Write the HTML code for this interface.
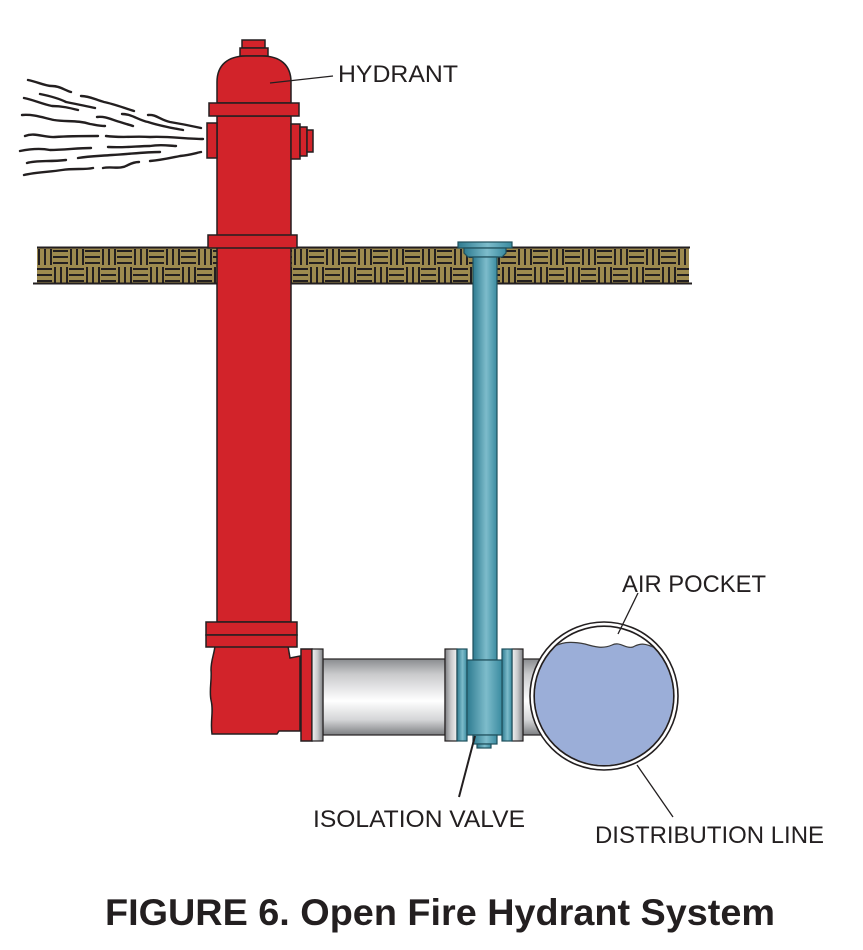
<!DOCTYPE html>
<html><head><meta charset="utf-8"><style>
html,body{margin:0;padding:0;background:#fff;}
svg{display:block;}
</style></head><body>
<svg width="863" height="950" viewBox="0 0 863 950" xmlns="http://www.w3.org/2000/svg">
<defs>
 <pattern id="weave" patternUnits="userSpaceOnUse" x="37" y="248" width="32" height="36">
  <rect width="32" height="36" fill="#9d8a4f"/>
  <g stroke="#231f20" stroke-width="2">
   <line x1="2" y1="1" x2="2" y2="17"/>
   <line x1="8" y1="1" x2="8" y2="17"/>
   <line x1="14" y1="1" x2="14" y2="17"/>
   <line x1="16" y1="3" x2="31" y2="3"/>
   <line x1="16" y1="9" x2="31" y2="9"/>
   <line x1="16" y1="15" x2="31" y2="15"/>
   <line x1="18" y1="19" x2="18" y2="35"/>
   <line x1="24" y1="19" x2="24" y2="35"/>
   <line x1="30" y1="19" x2="30" y2="35"/>
   <line x1="0" y1="21" x2="15" y2="21"/>
   <line x1="0" y1="27" x2="15" y2="27"/>
   <line x1="0" y1="33" x2="15" y2="33"/>
  </g>
 </pattern>
 <linearGradient id="pipeG" x1="0" y1="0" x2="0" y2="1">
  <stop offset="0" stop-color="#8a8c8f"/>
  <stop offset="0.2" stop-color="#c9cacc"/>
  <stop offset="0.55" stop-color="#ffffff"/>
  <stop offset="0.8" stop-color="#d4d5d7"/>
  <stop offset="1" stop-color="#7d7f82"/>
 </linearGradient>
 <linearGradient id="flG" x1="0" y1="0" x2="1" y2="0">
  <stop offset="0" stop-color="#7e8083"/>
  <stop offset="0.5" stop-color="#c8c9cb"/>
  <stop offset="1" stop-color="#f2f2f2"/>
 </linearGradient>
 <linearGradient id="flG2" x1="0" y1="0" x2="1" y2="0">
  <stop offset="0" stop-color="#f2f2f2"/>
  <stop offset="0.5" stop-color="#c8c9cb"/>
  <stop offset="1" stop-color="#7e8083"/>
 </linearGradient>
 <linearGradient id="blueG" x1="0" y1="0" x2="1" y2="0">
  <stop offset="0" stop-color="#2e7b90"/>
  <stop offset="0.55" stop-color="#7dbccb"/>
  <stop offset="1" stop-color="#3a8ba0"/>
 </linearGradient>
 <clipPath id="innerC"><circle cx="604" cy="696" r="69"/></clipPath>
</defs>

<!-- water spray -->
<g fill="none" stroke="#231f20" stroke-width="2.4" stroke-linecap="round">
 <path d="M28,80 C38,82 45,86 52,86 C60,86 64,90 71,92"/>
 <path d="M40,94 C50,96 58,98 66,102 C76,104 86,106 95,108"/>
 <path d="M24,98 C34,100 42,104 52,106 C62,106 70,108 78,110"/>
 <path d="M81,96 C90,96 96,100 104,102 C114,104 124,108 134,111"/>
 <path d="M22,115 C34,114 44,118 54,120 C66,122 78,120 90,124 C96,125 100,126 105,126"/>
 <path d="M97,117 C106,116 112,120 120,122 C126,124 130,125 133,126"/>
 <path d="M122,114 C132,114 138,120 148,122 C160,126 172,128 183,130"/>
 <path d="M148,115 C156,114 160,120 170,122 C182,124 192,126 201,128"/>
 <path d="M25,136 C35,132 45,138 55,137 C70,136 84,136 98,136"/>
 <path d="M106,136 C120,138 135,136 150,137 C168,136 186,139 203,139"/>
 <path d="M20,151 C30,149 40,148 50,150 C64,150 78,148 91,148"/>
 <path d="M108,147 C124,148 138,146 150,146 C162,144 170,146 176,146"/>
 <path d="M78,158 C90,156 100,156 112,155 C130,154 145,152 160,152"/>
 <path d="M27,163 C37,160 48,162 66,160"/>
 <path d="M150,161 C162,160 170,158 180,156 C190,155 196,153 201,152"/>
 <path d="M24,175 C36,172 50,172 62,170 C74,168 84,170 93,168"/>
 <path d="M103,168 C112,166 120,170 128,165 C132,163 136,162 139,162"/>
</g>

<!-- ground band -->
<rect x="37" y="248" width="652" height="35" fill="url(#weave)"/>
<line x1="37" y1="247.5" x2="690" y2="247.5" stroke="#231f20" stroke-width="2"/>
<line x1="33" y1="283.5" x2="692" y2="283.5" stroke="#231f20" stroke-width="2"/>

<!-- hydrant -->
<g stroke="#231f20" stroke-width="1.5" fill="#d2232a">
 <rect x="242" y="40" width="23" height="8"/>
 <rect x="240" y="48" width="28" height="8"/>
 <path d="M217,103 L217,82 C217,65 228,56 246,56 L262,56 C280,56 291,65 291,82 L291,103 Z"/>
 <rect x="217" y="116" width="74" height="506"/>
 <rect x="209" y="103" width="90" height="13"/>
 <rect x="207" y="123" width="10" height="35"/>
 <rect x="291" y="124" width="9" height="35"/>
 <rect x="300" y="127" width="7" height="29"/>
 <rect x="307" y="130" width="6" height="22"/>
 <rect x="208" y="235" width="89" height="13"/>
 <path d="M215,646 L288,646 L290,658 L300,656 L300,731 L279,731 L277,734 L212,734 C210,720 214,712 211,700 C209,690 212,680 211,670 C211,660 214,655 215,646 Z"/>
 <rect x="206" y="622" width="91" height="13"/>
 <rect x="206" y="635" width="91" height="12"/>
 <rect x="301" y="649" width="11" height="92"/>
</g>

<!-- gray pipe -->
<rect x="323" y="659" width="122" height="76" fill="url(#pipeG)" stroke="#231f20" stroke-width="1.2"/>
<rect x="523" y="659" width="40" height="76" fill="url(#pipeG)" stroke="#231f20" stroke-width="1.2"/>
<rect x="312" y="649" width="11" height="92" fill="url(#flG2)" stroke="#231f20" stroke-width="1.2"/>
<rect x="445" y="649" width="12" height="92" fill="url(#flG)" stroke="#231f20" stroke-width="1.2"/>
<rect x="512" y="649" width="11" height="92" fill="url(#flG2)" stroke="#231f20" stroke-width="1.2"/>

<!-- blue valve -->
<g stroke="#1f4f5c" stroke-width="1.2">
 <rect x="458" y="242" width="54" height="6" fill="url(#blueG)"/>
 <path d="M464,248 L506,248 L506,253 L502,257 L468,257 L464,253 Z" fill="url(#blueG)"/>
 <rect x="473" y="257" width="24" height="403" fill="url(#blueG)"/>
 <rect x="457" y="649" width="10" height="92" fill="url(#blueG)"/>
 <rect x="502" y="649" width="10" height="92" fill="url(#blueG)"/>
 <rect x="467" y="660" width="35" height="75" fill="url(#blueG)"/>
 <rect x="473" y="735" width="24" height="9" fill="url(#blueG)"/>
 <rect x="477" y="744" width="14" height="4" fill="url(#blueG)"/>
</g>

<!-- distribution line circle -->
<circle cx="604" cy="696" r="74" fill="#fff" stroke="#231f20" stroke-width="1.6"/>
<circle cx="604" cy="696" r="70" fill="#fff" stroke="#231f20" stroke-width="1.3"/>
<g clip-path="url(#innerC)">
 <path d="M520,646 L555,646 C565,641 575,642 585,644 C595,647 603,649 612,645 C620,641 625,649 633,647 C640,643 645,643 655,648 L690,648 L690,780 L520,780 Z" fill="#9baed8"/>
 <path d="M555,646 C565,641 575,642 585,644 C595,647 603,649 612,645 C620,641 625,649 633,647 C640,643 645,643 655,648" fill="none" stroke="#3a3a3a" stroke-width="1.2"/>
</g>
<circle cx="604" cy="696" r="69.5" fill="none" stroke="#231f20" stroke-width="1"/>

<!-- leaders -->
<g stroke="#231f20" stroke-width="1.3" fill="none">
 <line x1="270" y1="83" x2="333" y2="76"/>
 <line x1="638" y1="593" x2="618" y2="634"/>
 <line x1="475" y1="736" x2="459" y2="797" stroke-width="2"/>
 <line x1="637" y1="765" x2="673" y2="817"/>
</g>

<!-- labels -->
<g font-family="'Liberation Sans', Arial, sans-serif" fill="#231f20" font-size="24">
 <text x="338" y="82" textLength="120" lengthAdjust="spacingAndGlyphs">HYDRANT</text>
 <text x="622" y="592" textLength="144" lengthAdjust="spacingAndGlyphs">AIR POCKET</text>
 <text x="313" y="827" textLength="212" lengthAdjust="spacingAndGlyphs">ISOLATION VALVE</text>
 <text x="595" y="843" textLength="229" lengthAdjust="spacingAndGlyphs">DISTRIBUTION LINE</text>
 <text x="105" y="925" font-size="37" font-weight="bold" textLength="670" lengthAdjust="spacingAndGlyphs">FIGURE 6. Open Fire Hydrant System</text>
</g>
</svg>
</body></html>
